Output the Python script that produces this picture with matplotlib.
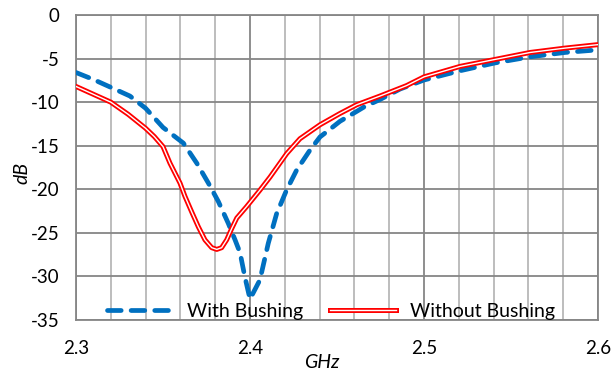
import matplotlib
matplotlib.use("Agg")
import matplotlib.pyplot as plt
import matplotlib.patheffects as pe
from matplotlib.ticker import MultipleLocator, FuncFormatter

plt.rcParams['font.family'] = ['Lato', 'DejaVu Sans']

# With Bushing (blue dashed)
freq_with = [2.300, 2.310, 2.320, 2.331, 2.340, 2.350, 2.3617, 2.3694, 2.3761,
             2.3818, 2.3875, 2.3914, 2.3943, 2.397, 2.400, 2.4057, 2.4105, 2.4153,
             2.421, 2.4268, 2.4345, 2.4402, 2.446, 2.4517, 2.461, 2.466, 2.4747,
             2.4862, 2.500, 2.5207, 2.5408, 2.561, 2.581, 2.600]
db_with = [-6.6, -7.4, -8.3, -9.3, -10.7, -12.9, -14.7, -17.0, -19.3,
           -21.4, -23.9, -25.8, -27.3, -30.0, -32.6, -30.4, -26.2, -22.8,
           -20.1, -17.8, -15.5, -14.0, -13.1, -12.2, -11.1, -10.5, -9.7,
           -8.5, -7.46, -6.4, -5.5, -4.8, -4.3, -4.0]

# Without Bushing (red double line)
freq_without = [2.300, 2.310, 2.320, 2.330, 2.340, 2.345, 2.350, 2.354, 2.3598, 2.3626,
                2.3665, 2.3703, 2.3741, 2.378, 2.3809, 2.3837, 2.3866, 2.3895,
                2.3924, 2.398, 2.4057, 2.4115, 2.4211, 2.4287, 2.4402, 2.4517,
                2.4613, 2.4747, 2.490, 2.500, 2.5207, 2.5408, 2.561, 2.581, 2.600]
db_without = [-8.2, -9.1, -10.0, -11.4, -13.0, -13.95, -15.1, -17.0, -19.3, -20.8,
              -22.6, -24.3, -25.8, -26.7, -26.9, -26.7, -25.8, -24.5,
              -23.3, -22.0, -20.1, -18.6, -15.9, -14.2, -12.6, -11.3,
              -10.3, -9.3, -8.1, -7.1, -5.9, -5.1, -4.3, -3.8, -3.4]

labels = ["With Bushing", "Without Bushing"]

fig = plt.figure(figsize=(6.14, 3.73), dpi=100)
ax = fig.add_axes([76/614, 1 - 320/373, (598-76)/614, (320-15)/373])

major_c = "#868686"
minor_c = "#b8b8b8"

ax.set_xlim(2.3, 2.6)
ax.set_ylim(-35, 0)
ax.xaxis.set_major_locator(MultipleLocator(0.1))
ax.xaxis.set_minor_locator(MultipleLocator(0.02))
ax.yaxis.set_major_locator(MultipleLocator(5))
ax.set_axisbelow(True)
ax.grid(which='minor', axis='x', color=minor_c, lw=1.3)
ax.grid(which='major', axis='x', color=major_c, lw=1.3)
ax.grid(which='major', axis='y', color=major_c, lw=1.3)
for s in ax.spines.values():
    s.set_color(major_c)
    s.set_linewidth(1.3)
ax.tick_params(which='both', length=0)
ax.tick_params(axis='y', pad=12, labelsize=13.5, colors='black')
ax.tick_params(axis='x', pad=14.5, labelsize=13.5, colors='black')
ax.xaxis.set_major_formatter(FuncFormatter(lambda v, p: f"{v:.1f}"))
ax.yaxis.set_major_formatter(FuncFormatter(lambda v, p: f"{v:.0f}"))

ax.plot(freq_with, db_with, color="#0070C0", lw=3.4, ls=(0, (2.9, 2.1)),
        dash_capstyle='round', label=labels[0], zorder=3)
ax.plot(freq_without, db_without, color="white", lw=1.0, label=labels[1], zorder=4,
        solid_joinstyle='round',
        path_effects=[pe.Stroke(linewidth=3.6, foreground="#FF0000"), pe.Normal()])

leg = fig.legend(loc='center', bbox_to_anchor=(331/614, 1 - 311/373), ncol=2,
                 frameon=False, fontsize=14, handlelength=3.4, handletextpad=0.7,
                 columnspacing=1.4)

fig.text(322/614, 1 - 363/373, "GHz", ha='center', va='center', fontsize=14, style='italic')
fig.text(22/614, 1 - 173/373, "dB", ha='center', va='center', fontsize=14, style='italic',
         rotation=90)

fig.savefig("out.png", dpi=100)
